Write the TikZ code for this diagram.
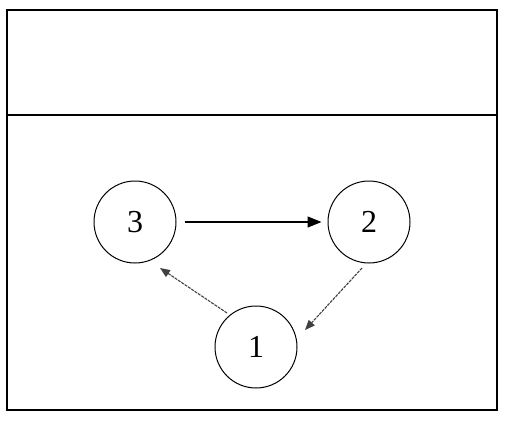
\documentclass[tikz,border=0pt]{standalone}
\usepackage{fontspec}
\setmainfont{Liberation Serif}
\usetikzlibrary{arrows.meta,calc}
\begin{document}
\begin{tikzpicture}[x=1pt,y=-1pt,
  statenode/.style={circle,draw=black,line width=1pt,minimum size=82pt,inner sep=0pt,font=\fontsize{32}{34}\selectfont},
  mainarrow/.style={line width=1.3pt,-{Triangle[length=14pt,width=11pt]}},
  faintarrow/.style={draw=black!75,line width=1.1pt,dash pattern=on 3pt off 1pt,-{Triangle[length=10pt,width=8pt]}}]
\useasboundingbox (0,0) rectangle (508,423);
\draw[line width=1.5pt] (7,10) rectangle (497,410);
\draw[line width=1.5pt] (7,115) -- (497,115);
\node[statenode] (n3) at (135,222) {3};
\node[statenode] (n2) at (369,222) {2};
\node[statenode] (n1) at (256,347) {1};
\draw[mainarrow] ([xshift=8pt]n3.east) -- ([xshift=-6pt]n2.west);
\draw[faintarrow] ($(n2)+(-7,46)$) -- ($(n1)+(49,-17)$);
\draw[faintarrow] ($(n1)+(-29,-34)$) -- ($(n3)+(25,46)$);
\end{tikzpicture}
\end{document}
